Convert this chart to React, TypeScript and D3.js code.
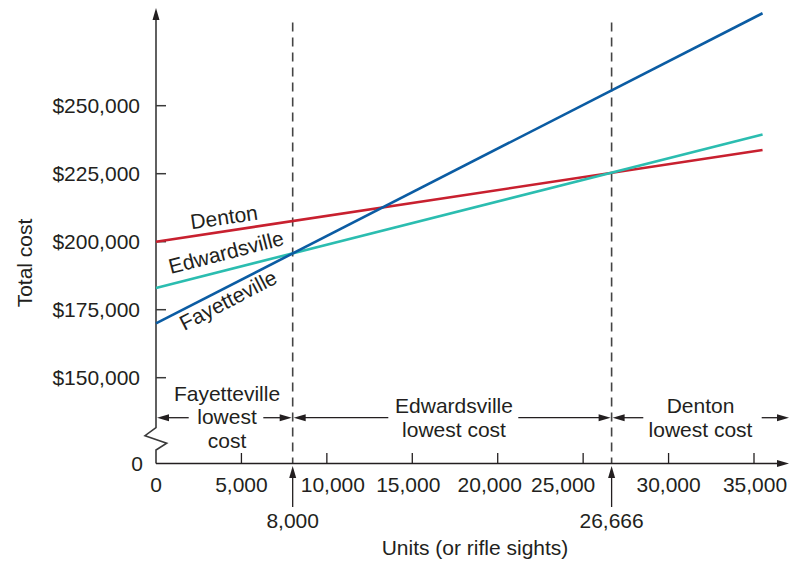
import React from "react";
import * as d3 from "d3";

// ---- data ----
const units = [0, 35500];
const dentonCost = [200000, 233700];
const edwardsvilleCost = [183000, 239400];
const fayettevilleCost = [170000, 284000];
const xTicks = [0, 5000, 10000, 15000, 20000, 25000, 30000, 35000];
const yTicks = [150000, 175000, 200000, 225000, 250000];
const breakEvenUnits = [8000, 26666];
const breakEvenLabels = ["8,000", "26,666"];
const regionNames = [
  ["Fayetteville", "lowest", "cost"],
  ["Edwardsville", "lowest cost"],
  ["Denton", "lowest cost"],
];
const lineNames = ["Denton", "Edwardsville", "Fayetteville"];

const W = 789;
const H = 561;
const FONT = "'Liberation Sans', Arial, Helvetica, sans-serif";
const TXT = "#231f20";
const AX = "#3a3a3a";

const x = d3.scaleLinear().domain([0, 35000]).range([156, 754]);
const y = d3.scaleLinear().domain([150000, 250000]).range([377.7, 105.7]);
const axisY = 463.5;
const axisX = x(0);

const series = [
  { name: lineNames[0], values: dentonCost, color: "#c8202f" },
  { name: lineNames[1], values: edwardsvilleCost, color: "#2bbdb0" },
  { name: lineNames[2], values: fayettevilleCost, color: "#0b5ca3" },
];

const line = d3
  .line<[number, number]>()
  .x((d) => x(d[0]))
  .y((d) => y(d[1]));

const fmt = d3.format(",");

function Head({ x0, y0, dir }: { x0: number; y0: number; dir: "l" | "r" | "u" }) {
  const L = 12;
  const hw = 3.5;
  let pts = "";
  if (dir === "l") pts = `${x0},${y0} ${x0 + L},${y0 - hw} ${x0 + L},${y0 + hw}`;
  if (dir === "r") pts = `${x0},${y0} ${x0 - L},${y0 - hw} ${x0 - L},${y0 + hw}`;
  if (dir === "u") pts = `${x0},${y0} ${x0 - hw},${y0 + L} ${x0 + hw},${y0 + L}`;
  return <polygon points={pts} fill={TXT} />;
}

function HArrow({ from, to, yy }: { from: number; to: number; yy: number }) {
  const dir = to < from ? "l" : "r";
  return (
    <g>
      <line x1={from} x2={dir === "l" ? to + 8 : to - 8} y1={yy} y2={yy} stroke={TXT} strokeWidth={1.3} />
      <Head x0={to} y0={yy} dir={dir} />
    </g>
  );
}

export default function App() {
  const xTickDx: Record<number, number> = { 10000: 6, 15000: -4, 20000: -8, 25000: -20, 35000: 1 };
  const bx = breakEvenUnits.map((u) => x(u));
  const arrowY = 417.7;
  const labelAngles = [-8.3, -14.5, -27.3];
  const labelPos: [number, number][] = [
    [224, 217],
    [226, 252],
    [228, 300],
  ];
  return (
    <svg
      width={W}
      height={H}
      style={{ position: "absolute", left: 0, top: 0, background: "#fff" }}
      fontFamily={FONT}
    >
      {/* dashed break-even lines */}
      {bx.map((bxv, i) => (
        <line
          key={i}
          x1={bxv}
          x2={bxv}
          y1={22.5}
          y2={axisY}
          stroke="#444"
          strokeWidth={1.6}
          strokeDasharray="9,6"
        />
      ))}

      {/* y axis with break */}
      <polyline
        points={`${axisX},${axisY} ${axisX},450 166.7,443.3 145,435.7 ${axisX},427.7 ${axisX},18`}
        fill="none"
        stroke={AX}
        strokeWidth={1.6}
        strokeLinejoin="miter"
      />
      <Head x0={axisX} y0={8} dir="u" />
      {yTicks.map((t) => (
        <g key={t}>
          <line x1={axisX} x2={axisX + 10} y1={y(t)} y2={y(t)} stroke={AX} strokeWidth={1.5} />
          <text x={140} y={y(t)} dy="0.36em" textAnchor="end" fontSize={21} fill={TXT}>
            {"$" + fmt(t)}
          </text>
        </g>
      ))}
      <text x={143} y={axisY} dy="0.36em" textAnchor="end" fontSize={21} fill={TXT}>
        0
      </text>

      {/* x axis */}
      <line x1={axisX} x2={W - 8} y1={axisY} y2={axisY} stroke={TXT} strokeWidth={1.5} />
      <polygon points={`${W},${axisY} ${W - 12},${axisY - 3.5} ${W - 12},${axisY + 3.5}`} fill={TXT} />
      {xTicks.map((t) => (
        <g key={t}>
          {t > 0 && <line x1={x(t)} x2={x(t)} y1={axisY} y2={axisY - 10.5} stroke={TXT} strokeWidth={1.3} />}
          <text x={x(t) + (xTickDx[t] || 0)} y={492} textAnchor="middle" fontSize={21} fill={TXT}>
            {fmt(t)}
          </text>
        </g>
      ))}

      {/* break-even arrows below axis */}
      {bx.map((bxv, i) => (
        <g key={i}>
          <line x1={bxv} x2={bxv} y1={507} y2={474} stroke={TXT} strokeWidth={1.3} />
          <Head x0={bxv} y0={466} dir="u" />
          <text x={bxv} y={528} textAnchor="middle" fontSize={21} fill={TXT}>
            {breakEvenLabels[i]}
          </text>
        </g>
      ))}

      <text x={475} y={555} textAnchor="middle" fontSize={21} fill={TXT}>
        Units (or rifle sights)
      </text>
      <text transform="translate(24,263) rotate(-90)" textAnchor="middle" dy="0.36em" fontSize={21} fill={TXT}>
        Total cost
      </text>

      {/* region labels and arrows */}
      <g fontSize={21} fill={TXT} textAnchor="middle">
        <text x={227} y={400.7}>{regionNames[0][0]}</text>
        <text x={227} y={424.3}>{regionNames[0][1]}</text>
        <text x={227} y={448}>{regionNames[0][2]}</text>
        <text x={454} y={413.3}>{regionNames[1][0]}</text>
        <text x={454} y={437.3}>{regionNames[1][1]}</text>
        <text x={700.5} y={413.3}>{regionNames[2][0]}</text>
        <text x={700.5} y={437.3}>{regionNames[2][1]}</text>
      </g>
      <HArrow from={188.7} to={157} yy={arrowY} />
      <HArrow from={263.3} to={bx[0] - 1} yy={arrowY} />
      <HArrow from={388.3} to={bx[0] + 1} yy={arrowY} />
      <HArrow from={518.3} to={bx[1] - 1} yy={arrowY} />
      <HArrow from={643.3} to={bx[1] + 1} yy={arrowY} />
      <HArrow from={761.7} to={W} yy={arrowY} />

      {/* cost lines */}
      {series.map((s) => (
        <path
          key={s.name}
          d={line(units.map((u, i) => [u, s.values[i]] as [number, number])) || ""}
          fill="none"
          stroke={s.color}
          strokeWidth={2.6}
        />
      ))}

      {/* line labels */}
      {series.map((s, i) => (
        <text
          key={s.name}
          transform={`translate(${labelPos[i][0]},${labelPos[i][1]}) rotate(${labelAngles[i]})`}
          textAnchor="middle"
          dy="0.36em"
          fontSize={21}
          fill={TXT}
        >
          {s.name}
        </text>
      ))}
    </svg>
  );
}
